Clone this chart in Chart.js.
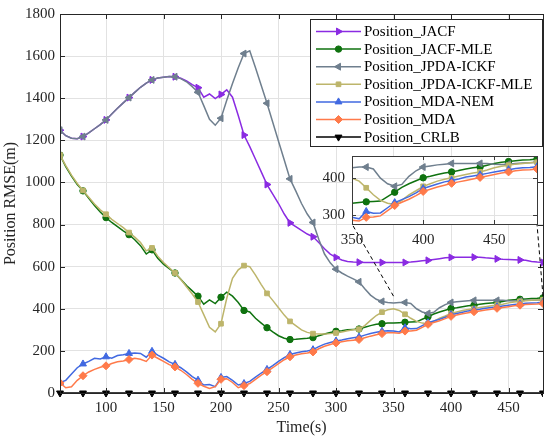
<!DOCTYPE html>
<html>
<head>
<meta charset="utf-8">
<script src="https://cdn.jsdelivr.net/npm/chart.js@4.4.1/dist/chart.umd.min.js"></script>
<style>
  html, body { margin: 0; padding: 0; background: #fff; }
  #wrap { position: relative; width: 550px; height: 439px; }
  #main { position: absolute; left: 0; top: 0; }
  #inset { position: absolute; left: 300px; top: 140px; }
</style>
</head>
<body>
<div id="wrap">
  <canvas id="main" width="550" height="439"></canvas>
  <canvas id="inset" width="245" height="115"></canvas>
</div>
<script>
// time axis (s), one sample every 5 s
const time = [
  60, 65, 70, 75, 80, 85, 90, 95, 100, 105,
  110, 115, 120, 125, 130, 135, 140, 145, 150, 155,
  160, 165, 170, 175, 180, 185, 190, 195, 200, 205,
  210, 215, 220, 225, 230, 235, 240, 245, 250, 255,
  260, 265, 270, 275, 280, 285, 290, 295, 300, 305,
  310, 315, 320, 325, 330, 335, 340, 345, 350, 355,
  360, 365, 370, 375, 380, 385, 390, 395, 400, 405,
  410, 415, 420, 425, 430, 435, 440, 445, 450, 455,
  460, 465, 470, 475, 480
]

const jacf = [
  1248, 1222, 1210, 1208, 1218, 1235, 1255, 1275, 1297, 1325,
  1352, 1378, 1403, 1428, 1452, 1472, 1487, 1496, 1500, 1503,
  1502, 1495, 1482, 1465, 1450, 1405, 1420, 1398, 1418, 1440,
  1405, 1318, 1225, 1170, 1110, 1050, 990, 945, 900, 850,
  808, 790, 772, 755, 742, 715, 685, 660, 644, 632,
  625, 622, 621, 620, 620, 620, 620, 620, 620, 620,
  620, 622, 625, 628, 630, 634, 638, 642, 644, 645,
  645, 645, 645, 645, 642, 640, 637, 635, 634, 633,
  632, 630, 625, 622, 620
]

const jacfMle = [
  1130, 1075, 1030, 990, 960, 925, 890, 860, 833, 810,
  790, 770, 752, 728, 700, 660, 680, 640, 612, 590,
  570, 540, 510, 485, 460, 422, 442, 425, 455, 479,
  460, 430, 392, 385, 355, 332, 310, 290, 272, 260,
  254, 255, 258, 260, 263, 272, 280, 287, 293, 296,
  300, 302, 304, 312, 320, 326, 329, 332, 332, 334,
  336, 337, 338, 350, 362, 375, 385, 393, 401, 405,
  410, 414, 417, 421, 425, 428, 430, 435, 440, 443,
  445, 447, 449, 450, 452
]

const jpdaIckf = [
  1248, 1222, 1210, 1208, 1218, 1235, 1255, 1275, 1297, 1325,
  1352, 1378, 1403, 1428, 1452, 1472, 1487, 1496, 1500, 1503,
  1502, 1493, 1478, 1455, 1428, 1365, 1300, 1272, 1305, 1390,
  1470, 1545, 1612, 1625, 1545, 1460, 1376, 1286, 1196, 1107,
  1017, 960, 900, 850, 810, 730, 660, 618, 588, 570,
  555, 542, 528, 495, 465, 445, 435, 430, 428, 430,
  430, 425, 400, 385, 378, 383, 405, 420, 430, 433,
  436, 438, 440, 440, 440, 440, 440, 440, 438, 437,
  438, 440, 441, 442, 443
]

const jpdaIckfMle = [
  1130, 1080, 1035, 995, 962, 930, 898, 870, 849, 825,
  805, 785, 762, 740, 715, 675, 689, 650, 620, 595,
  570, 540, 505, 470, 432, 372, 312, 290, 329, 450,
  545, 585, 605, 600, 560, 515, 473, 440, 405, 370,
  340, 320, 300, 288, 282, 280, 280, 282, 285, 290,
  296, 300, 303, 320, 345, 368, 384, 395, 400, 392,
  374, 355, 340, 332, 329, 340, 355, 366, 378, 385,
  392, 397, 401, 406, 410, 414, 417, 422, 428, 432,
  435, 438, 440, 442, 443
]

const mdaNem = [
  50, 60, 90, 120, 138, 150, 165, 162, 172, 165,
  178, 182, 188, 190, 188, 170, 198, 180, 165, 148,
  136, 120, 100, 78, 61, 38, 40, 30, 74, 78,
  60, 38, 45, 55, 75, 95, 112, 130, 150, 168,
  183, 190, 196, 200, 206, 220, 232, 240, 247, 252,
  258, 262, 266, 275, 283, 288, 293, 296, 294, 290,
  310, 305, 306, 320, 334, 342, 350, 360, 372, 378,
  384, 390, 394, 398, 403, 406, 409, 413, 417, 420,
  423, 426, 428, 429, 431
]

const mda = [
  48, 25, 30, 60, 82, 100, 112, 122, 129, 140,
  148, 152, 159, 165, 160, 150, 180, 165, 150, 135,
  124, 108, 88, 65, 46, 32, 22, 30, 65, 68,
  50, 25, 35, 45, 65, 85, 101, 120, 140, 158,
  172, 180, 186, 190, 195, 210, 222, 230, 238, 243,
  248, 251, 254, 262, 270, 277, 282, 286, 286, 284,
  294, 295, 298, 312, 326, 335, 343, 353, 364, 370,
  376, 381, 386, 390, 394, 398, 402, 406, 410, 414,
  417, 420, 422, 423, 425
]

const crlb = [
  0, 0, 0, 0, 0, 0, 0, 0, 0, 0,
  0, 0, 0, 0, 0, 0, 0, 0, 0, 0,
  0, 0, 0, 0, 0, 0, 0, 0, 0, 0,
  0, 0, 0, 0, 0, 0, 0, 0, 0, 0,
  0, 0, 0, 0, 0, 0, 0, 0, 0, 0,
  0, 0, 0, 0, 0, 0, 0, 0, 0, 0,
  0, 0, 0, 0, 0, 0, 0, 0, 0, 0,
  0, 0, 0, 0, 0, 0, 0, 0, 0, 0,
  0, 0, 0, 0, 0
]

const seriesNames = [
  'Position_JACF', 'Position_JACF-MLE', 'Position_JPDA-ICKF',
  'Position_JPDA-ICKF-MLE', 'Position_MDA-NEM', 'Position_MDA', 'Position_CRLB',
]
const seriesValues = [jacf, jacfMle, jpdaIckf, jpdaIckfMle, mdaNem, mda, crlb]

const mainXTicks = [100, 150, 200, 250, 300, 350, 400, 450]
const mainYTicks = [0, 200, 400, 600, 800, 1000, 1200, 1400, 1600, 1800]
const insetXTicks = [350, 400, 450]
const insetYTicks = [300, 400]

// styles (kept apart from the values)
const colors = ['#8a2be2', '#0f720f', '#6f7f8e', '#bdb56b', '#4169e1', '#ff7a4a', '#000000']
const markers = [
  { style: 'triangle', rotation: 90, r: 4 },
  { style: 'circle', rotation: 0, r: 3.2 },
  { style: 'triangle', rotation: 270, r: 4 },
  { style: 'rect', rotation: 0, r: 3.3 },
  { style: 'triangle', rotation: 0, r: 4 },
  { style: 'rectRot', rotation: 0, r: 4 },
  { style: 'triangle', rotation: 180, r: 4 },
]
const axisColor = '#262626'
const gridColor = '#e2e2e2'
const fontFamily = '"Liberation Serif", "Times New Roman", serif'

Chart.defaults.font.family = fontFamily
Chart.defaults.font.size = 15
Chart.defaults.color = axisColor

const plainLabel = (v) => String(v)

function makeDatasets(inset) {
  return seriesNames.map((name, i) => ({
    label: name,
    data: time.map((t, k) => ({ x: t, y: seriesValues[i][k] })),
    borderColor: colors[i],
    backgroundColor: colors[i],
    borderWidth: 1.5,
    pointStyle: markers[i].style,
    rotation: markers[i].rotation,
    pointRadius: (ctx) => (time[ctx.dataIndex] % 20 === 0 ? markers[i].r : 0),
    pointHoverRadius: (ctx) => (time[ctx.dataIndex] % 20 === 0 ? markers[i].r : 0),
    pointBorderWidth: 1,
    tension: 0,
    order: seriesNames.length - i, // later series on top, like the original
    clip: !inset && i === seriesNames.length - 1 ? { left: 6, top: 0, right: 0, bottom: 8 } : undefined,
  }))
}

// box round the plot area with inward ticks on all four sides
const boxTicks = {
  id: 'boxTicks',
  afterDatasetsDraw(chart, args, opts) {
    const { ctx, chartArea: a, scales: { x, y } } = chart
    const len = opts.len || 5
    ctx.save()
    ctx.strokeStyle = opts.color || axisColor
    ctx.lineWidth = 1
    ctx.beginPath()
    x.ticks.forEach((t) => {
      const p = Math.round(x.getPixelForValue(t.value)) + 0.5
      ctx.moveTo(p, a.bottom); ctx.lineTo(p, a.bottom - len)
      ctx.moveTo(p, a.top); ctx.lineTo(p, a.top + len)
    })
    y.ticks.forEach((t) => {
      const p = Math.round(y.getPixelForValue(t.value)) + 0.5
      ctx.moveTo(a.left, p); ctx.lineTo(a.left + len, p)
      ctx.moveTo(a.right, p); ctx.lineTo(a.right - len, p)
    })
    ctx.stroke()
    ctx.strokeRect(Math.round(a.left) + 0.5, Math.round(a.top) + 0.5,
      Math.round(a.right - a.left), Math.round(a.bottom - a.top))
    ctx.restore()
  },
}

const whiteArea = {
  id: 'whiteArea',
  beforeDraw(chart) {
    const { ctx, chartArea: a } = chart
    ctx.save()
    ctx.fillStyle = '#fff'
    ctx.fillRect(a.left, a.top, a.right - a.left, a.bottom - a.top)
    ctx.restore()
  },
}

// legend: line sample with its marker, inside a framed box
const legendBox = {
  id: 'legendBox',
  afterDraw(chart) {
    const { ctx, chartArea: a } = chart
    const w = 233, h = 128, rowH = 17.6
    const left = a.right - w, top = a.top + 5
    ctx.save()
    ctx.fillStyle = '#fff'
    ctx.fillRect(left, top, w, h)
    ctx.strokeStyle = axisColor
    ctx.lineWidth = 1
    ctx.strokeRect(Math.round(left) + 0.5, Math.round(top) + 0.5, w - 1, h - 1)
    ctx.font = '15px ' + fontFamily
    ctx.textBaseline = 'middle'
    seriesNames.forEach((name, i) => {
      const y = top + 12.5 + i * rowH
      ctx.strokeStyle = colors[i]
      ctx.fillStyle = colors[i]
      ctx.lineWidth = 1.5
      ctx.beginPath()
      ctx.moveTo(left + 6, y); ctx.lineTo(left + 51, y)
      ctx.stroke()
      ctx.lineWidth = 1
      Chart.helpers.drawPoint(ctx, {
        pointStyle: markers[i].style, rotation: markers[i].rotation,
        radius: markers[i].r, borderWidth: 1,
      }, left + 28.5, y)
      ctx.fillStyle = '#000'
      ctx.fillText(name, left + 54, y + 0.5)
    })
    ctx.restore()
  },
}

const insetCanvas = document.getElementById('inset')
const insetRange = { xMin: 350, xMax: 480, yMin: 276, yMax: 460 }

const insetChart = new Chart(insetCanvas, {
  type: 'line',
  data: { datasets: makeDatasets(true) },
  options: {
    responsive: false,
    animation: false,
    events: [],
    layout: { padding: { top: 9, right: 8, left: 0, bottom: 0 } },
    scales: {
      x: {
        type: 'linear',
        min: insetRange.xMin,
        max: insetRange.xMax,
        afterBuildTicks: (s) => { s.ticks = insetXTicks.map((v) => ({ value: v })) },
        afterFit: (s) => { s.height = 31 },
        ticks: { padding: 7, maxRotation: 0, callback: plainLabel },
        grid: { color: gridColor, drawTicks: false },
        border: { display: false },
      },
      y: {
        type: 'linear',
        min: insetRange.yMin,
        max: insetRange.yMax,
        afterBuildTicks: (s) => { s.ticks = insetYTicks.map((v) => ({ value: v })) },
        afterFit: (s) => { s.width = 52 },
        ticks: { padding: 7, callback: plainLabel },
        grid: { color: gridColor, drawTicks: false },
        border: { display: false },
      },
    },
    plugins: {
      legend: { display: false },
      tooltip: { enabled: false },
      boxTicks: { len: 4, color: '#3a3a3a' },
    },
  },
  plugins: [whiteArea, boxTicks],
})

// dashed lines from the zoomed region to the inset corners
const connector = {
  id: 'connector',
  afterDatasetsDraw(chart) {
    const { ctx, scales: { x, y } } = chart
    const ia = insetChart.chartArea
    const ox = insetCanvas.offsetLeft, oy = insetCanvas.offsetTop
    ctx.save()
    ctx.setLineDash([4, 3])
    ctx.strokeStyle = '#000'
    ctx.lineWidth = 1
    ctx.beginPath()
    ctx.moveTo(x.getPixelForValue(insetRange.xMin), y.getPixelForValue(insetRange.yMax))
    ctx.lineTo(ox + ia.left, oy + ia.bottom)
    ctx.moveTo(x.getPixelForValue(insetRange.xMax), y.getPixelForValue(insetRange.yMax))
    ctx.lineTo(ox + ia.right, oy + ia.bottom)
    ctx.stroke()
    ctx.restore()
  },
}

new Chart(document.getElementById('main'), {
  type: 'line',
  data: { datasets: makeDatasets(false) },
  options: {
    responsive: false,
    animation: false,
    events: [],
    layout: { padding: { top: 12, right: 7, left: 0, bottom: 0 } },
    scales: {
      x: {
        type: 'linear',
        min: 60,
        max: 480,
        afterBuildTicks: (s) => { s.ticks = mainXTicks.map((v) => ({ value: v })) },
        afterFit: (s) => { s.height = 46 },
        ticks: { padding: 6, maxRotation: 0, callback: plainLabel },
        grid: { color: gridColor, drawTicks: false },
        border: { display: false },
        title: {
          display: true,
          text: 'Time(s)',
          font: { size: 16 },
          padding: { top: 0, bottom: 2 },
        },
      },
      y: {
        type: 'linear',
        min: 0,
        max: 1800,
        afterBuildTicks: (s) => { s.ticks = mainYTicks.map((v) => ({ value: v })) },
        afterFit: (s) => { s.width = 60 },
        ticks: { padding: 5, callback: plainLabel },
        grid: { color: gridColor, drawTicks: false },
        border: { display: false },
        title: {
          display: true,
          text: 'Position RMSE(m)',
          font: { size: 16 },
          padding: { top: 1, bottom: 0 },
        },
      },
    },
    plugins: {
      legend: { display: false },
      tooltip: { enabled: false },
      boxTicks: { len: 5, color: axisColor },
    },
  },
  plugins: [boxTicks, connector, legendBox],
})
</script>
</body>
</html>
